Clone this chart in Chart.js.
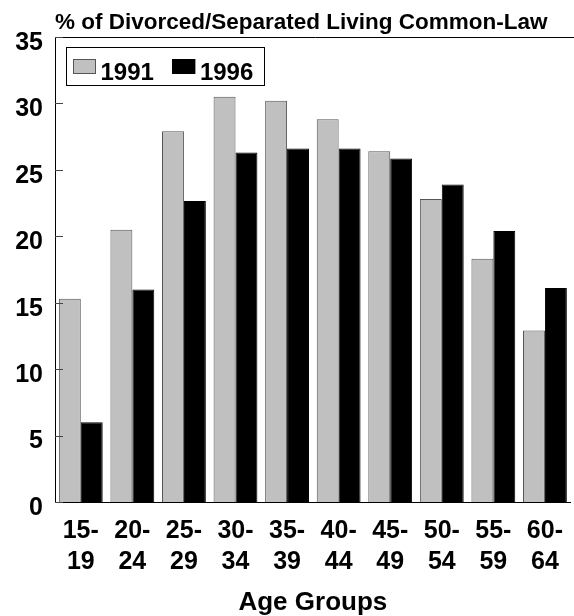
<!DOCTYPE html>
<html>
<head>
<meta charset="utf-8">
<title>Divorced/Separated Living Common-Law</title>
<script src="https://cdn.jsdelivr.net/npm/chart.js@4"></script>
<style>
  html, body { margin: 0; padding: 0; background: #fff; overflow: hidden; }
  canvas { display: block; }
</style>
</head>
<body>
<canvas id="barchart" width="576" height="616"></canvas>
<script>
// Data
const ageGroups = [['15-', '19'], ['20-', '24'], ['25-', '29'], ['30-', '34'], ['35-', '39'],
                   ['40-', '44'], ['45-', '49'], ['50-', '54'], ['55-', '59'], ['60-', '64']];
const values1991 = [15.3, 20.5, 27.9, 30.5, 30.2, 28.8, 26.4, 22.8, 18.3, 12.9];
const values1996 = [6.0, 16.0, 22.65, 26.3, 26.6, 26.6, 25.85, 23.9, 20.4, 16.1];
const yTicks = [0, 5, 10, 15, 20, 25, 30, 35];

const chartTitle = '% of Divorced/Separated Living Common-Law';
const FONT = "'Liberation Sans', Arial, sans-serif";

// title, legend box, frame line on top and inner tick marks
const decorations = {
    id: 'decorations',
    afterDraw(chart) {
        const ctx = chart.ctx;
        const area = chart.chartArea;
        const yScale = chart.scales.y;
        ctx.save();

        // title
        ctx.fillStyle = '#000';
        ctx.font = 'bold 22.5px ' + FONT;
        ctx.textBaseline = 'alphabetic';
        ctx.textAlign = 'left';
        ctx.fillText(chartTitle, area.left, 28.5);

        // top line
        ctx.strokeStyle = '#000';
        ctx.lineWidth = 1;
        ctx.beginPath();
        ctx.moveTo(area.left, Math.round(area.top) + 0.5);
        ctx.lineTo(chart.width, Math.round(area.top) + 0.5);
        ctx.stroke();

        // tick marks drawn inside the plot
        ctx.strokeStyle = '#444';
        yTicks.forEach(function (v) {
            const py = Math.round(yScale.getPixelForValue(v)) + 0.5;
            ctx.beginPath();
            ctx.moveTo(area.left, py);
            ctx.lineTo(area.left + 8, py);
            ctx.stroke();
        });

        // legend
        ctx.font = 'bold 24px ' + FONT;
        const boxLeft = area.left + 10.5;
        const boxTop = area.top + 10;
        let x = boxLeft + 7.5;
        const items = chart.data.datasets.map(function (ds) {
            const item = { ds: ds, x: x };
            x += 23 + 4.5 + ctx.measureText(ds.label).width;
            item.end = x;
            x += 18.5;
            return item;
        });
        const boxRight = items[items.length - 1].end + 10;
        ctx.fillStyle = '#fff';
        ctx.fillRect(boxLeft, boxTop, boxRight - boxLeft, 38.5);
        ctx.strokeStyle = '#000';
        ctx.strokeRect(Math.round(boxLeft) + 0.5, Math.round(boxTop) + 0.5, Math.round(boxRight - boxLeft), 38);
        items.forEach(function (it) {
            ctx.fillStyle = it.ds.backgroundColor;
            ctx.fillRect(it.x, boxTop + 12, 23, 15);
            ctx.strokeStyle = it.ds.borderColor;
            ctx.strokeRect(Math.round(it.x) + 0.5, Math.round(boxTop + 12) + 0.5, 22, 14);
            ctx.fillStyle = '#000';
            ctx.fillText(it.ds.label, it.x + 27.5, boxTop + 33);
        });

        ctx.restore();
    }
};

const ctxBar = document.getElementById('barchart');

new Chart(ctxBar, {
    type: 'bar',
    data: {
        labels: ageGroups,
        datasets: [
            {
                label: '1991',
                data: values1991,
                backgroundColor: '#c0c0c0',
                borderColor: '#555555',
                borderWidth: 1,
                borderSkipped: 'bottom'
            },
            {
                label: '1996',
                data: values1996,
                backgroundColor: '#000000',
                borderColor: '#000000',
                borderWidth: 1,
                borderSkipped: 'bottom'
            }
        ]
    },
    options: {
        responsive: false,
        animation: false,
        layout: { padding: { top: 37, left: 0, right: 0, bottom: 0 } },
        datasets: {
            bar: { categoryPercentage: 0.85, barPercentage: 1.0 }
        },
        plugins: {
            legend: { display: false },
            title: { display: false },
            tooltip: { enabled: false }
        },
        scales: {
            x: {
                grid: { display: false, drawTicks: false },
                border: { display: true, color: '#000', width: 1 },
                ticks: {
                    color: '#000',
                    padding: 13,
                    maxRotation: 0,
                    autoSkip: false,
                    font: { family: FONT, size: 25, weight: 'bold', lineHeight: 1.25 }
                },
                title: {
                    display: true,
                    text: 'Age Groups',
                    color: '#000',
                    padding: { top: 0, bottom: -2 },
                    font: { family: FONT, size: 26, weight: 'bold', lineHeight: 1.2 }
                },
                afterFit: function (scale) { scale.height = 114; }
            },
            y: {
                min: 0,
                max: 35,
                grid: { display: false, drawTicks: false },
                border: { display: true, color: '#000', width: 1 },
                afterBuildTicks: function (scale) {
                    scale.ticks = yTicks.map(function (v) { return { value: v }; });
                },
                ticks: {
                    color: '#000',
                    padding: 12,
                    labelOffset: 6,
                    font: { family: FONT, size: 25, weight: 'bold' }
                },
                afterFit: function (scale) { scale.width = 55; }
            }
        }
    },
    plugins: [decorations]
});
</script>
</body>
</html>
